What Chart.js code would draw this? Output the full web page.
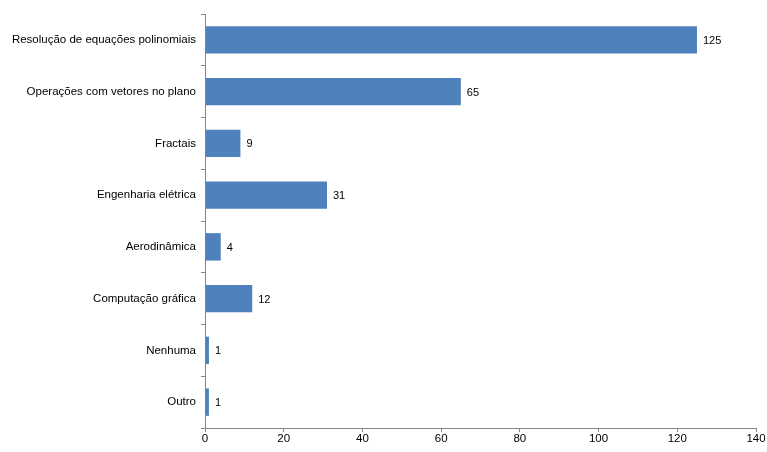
<!DOCTYPE html>
<html>
<head>
<meta charset="utf-8">
<script src="https://cdn.jsdelivr.net/npm/chart.js@4/dist/chart.umd.min.js"></script>
<style>
  body { margin: 0; background: #fff; }
  #wrap { width: 767px; height: 452px; }
</style>
</head>
<body>
<div id="wrap"><canvas id="canvas" width="767" height="452"></canvas></div>
<script>
var categories = [
    'Resolução de equações polinomiais',
    'Operações com vetores no plano',
    'Fractais',
    'Engenharia elétrica',
    'Aerodinâmica',
    'Computação gráfica',
    'Nenhuma',
    'Outro'
];
var counts = [125, 65, 9, 31, 4, 12, 1, 1];
var xTicks = [0, 20, 40, 60, 80, 100, 120, 140];

var font = "'Liberation Sans Narrow', 'Liberation Sans', Arial, sans-serif";

// value labels to the right of each bar
var barLabels = {
    id: 'barLabels',
    afterDatasetsDraw: function(chart) {
        var ctx = chart.ctx;
        var meta = chart.getDatasetMeta(0);
        ctx.save();
        ctx.font = '11px ' + font;
        ctx.fillStyle = '#000';
        ctx.textBaseline = 'middle';
        ctx.textAlign = 'left';
        meta.data.forEach(function(bar, i) {
            ctx.fillText(counts[i], bar.x + 6, bar.y + 1);
        });
        ctx.restore();
    }
};

const ctx = document.getElementById('canvas').getContext('2d');
const myChart = new Chart(ctx, {
    type: 'bar',
    data: {
        labels: categories,
        datasets: [{
            data: counts,
            backgroundColor: '#4F81BD',
            borderWidth: 0,
            categoryPercentage: 1,
            barPercentage: 0.53
        }]
    },
    options: {
        indexAxis: 'y',
        responsive: false,
        animation: false,
        layout: { padding: { left: 0, right: 11, top: 14, bottom: 0 } },
        scales: {
            x: {
                min: 0,
                max: 140,
                afterBuildTicks: function(axis) {
                    axis.ticks = xTicks.map(function(v) { return { value: v }; });
                },
                afterFit: function(axis) { axis.height = 24; },
                border: { color: '#868686', width: 1 },
                grid: { drawOnChartArea: false, color: '#868686', tickLength: 4 },
                ticks: { color: '#000', font: { family: font, size: 11.5 }, padding: 0, maxRotation: 0 }
            },
            y: {
                afterFit: function(axis) { axis.width = 205; },
                border: { color: '#868686', width: 1 },
                grid: { drawOnChartArea: false, color: '#868686', tickLength: 4, offset: true },
                ticks: { color: '#000', font: { family: font, size: 11.5 }, padding: 5, autoSkip: false }
            }
        },
        plugins: {
            legend: { display: false },
            tooltip: { enabled: false }
        }
    },
    plugins: [barLabels]
});
</script>
</body>
</html>
